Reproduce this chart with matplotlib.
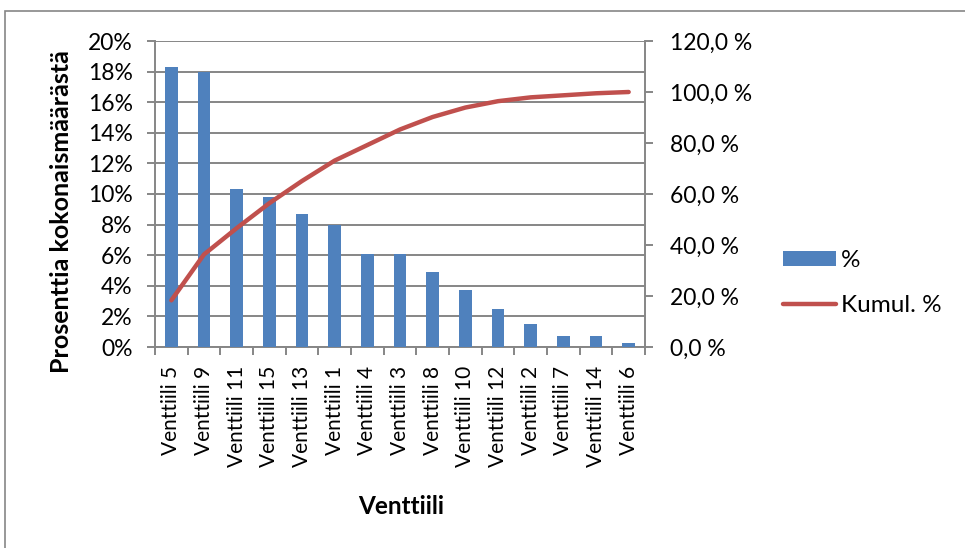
import matplotlib
matplotlib.use("Agg")
import matplotlib.pyplot as plt
from matplotlib.patches import Rectangle
from matplotlib.ticker import FuncFormatter, MultipleLocator

plt.rcParams['font.family'] = ['Lato', 'DejaVu Sans']

categories = ["Venttiili 5", "Venttiili 9", "Venttiili 11", "Venttiili 15", "Venttiili 13",
              "Venttiili 1", "Venttiili 4", "Venttiili 3", "Venttiili 8", "Venttiili 10",
              "Venttiili 12", "Venttiili 2", "Venttiili 7", "Venttiili 14", "Venttiili 6"]
share_pct = [18.3, 18.0, 10.3, 9.8, 8.7, 8.0, 6.1, 6.1, 4.9, 3.7, 2.5, 1.5, 0.7, 0.7, 0.25]
cumulative_pct = [18.3, 36.3, 46.6, 56.4, 65.1, 73.1, 79.2, 85.3, 90.2, 93.9, 96.4, 97.9, 98.7, 99.5, 100.0]

bar_color = "#4F81BD"
line_color = "#C0504D"
grid_color = "#868686"
text_color = "#000000"

W, H = 965, 548
fig = plt.figure(figsize=(W / 100, H / 100), dpi=100)

# outer chart frame
fig.patches.append(Rectangle((5 / W, -0.2), 2.0, 1.2 - 11 / H,
                             transform=fig.transFigure, fill=False,
                             edgecolor=grid_color, linewidth=1.2))

left, right, top, bottom = 155, 645, 41, 347
ax = fig.add_axes([left / W, 1 - bottom / H, (right - left) / W, (bottom - top) / H])
ax2 = ax.twinx()

x = list(range(len(categories)))
bars = ax.bar(x, share_pct, width=0.39, color=bar_color, label="%", zorder=3)
line, = ax2.plot(x, cumulative_pct, color=line_color, linewidth=3.2,
                 solid_capstyle="round", label="Kumul. %", zorder=4)

ax.set_xlim(-0.5, len(categories) - 0.5)
ax.set_ylim(0, 20)
ax2.set_ylim(0, 120)

ax.yaxis.set_major_locator(MultipleLocator(2))
ax.yaxis.set_major_formatter(FuncFormatter(lambda v, p: f"{v:.0f}%"))
ax2.yaxis.set_major_locator(MultipleLocator(20))
ax2.yaxis.set_major_formatter(FuncFormatter(lambda v, p: f"{v:.1f} %".replace(".", ",")))

ax.grid(axis="y", color=grid_color, linewidth=1.4, zorder=0)
ax.set_axisbelow(True)

for a in (ax, ax2):
    for s in a.spines.values():
        s.set_visible(False)
for a, side in ((ax, "left"), (ax, "bottom"), (ax2, "right")):
    a.spines[side].set_visible(True)
    a.spines[side].set_color(grid_color)
    a.spines[side].set_linewidth(1.4)

ax.set_xticks(x)
ax.set_xticklabels(categories, rotation=90, fontsize=15, color=text_color)
ax.tick_params(axis="x", length=0, pad=13.5)
ax.set_xticks([i - 0.5 for i in range(len(categories) + 1)], minor=True)
ax.tick_params(axis="x", which="minor", length=6, width=1.4, color=grid_color, direction="out")
ax.tick_params(axis="y", length=6, width=1.4, color=grid_color, labelsize=16.5,
               labelcolor=text_color, pad=10)
ax2.tick_params(axis="y", length=6, width=1.4, color=grid_color, labelsize=16.5,
                labelcolor=text_color, pad=12)

ax.set_ylabel("Prosenttia kokonaismäärästä", fontsize=18, fontweight="bold", va="center")
ax.yaxis.set_label_coords((62 - left) / (right - left), (bottom - 212) / (bottom - top))
ax.set_xlabel("Venttiili", fontsize=17.5, fontweight="bold", va="center")
ax.xaxis.set_label_coords((401 - left) / (right - left), (bottom - 507) / (bottom - top))

fig.legend([bars, line], ["%", "Kumul. %"], loc="center left",
           bbox_to_anchor=(783 / W, 1 - 283 / H), frameon=False, fontsize=17.5,
           borderpad=0, borderaxespad=0,
           handlelength=2.2, handleheight=0.6, handletextpad=0.2, labelspacing=1.0)

fig.savefig("out.png", dpi=100)
